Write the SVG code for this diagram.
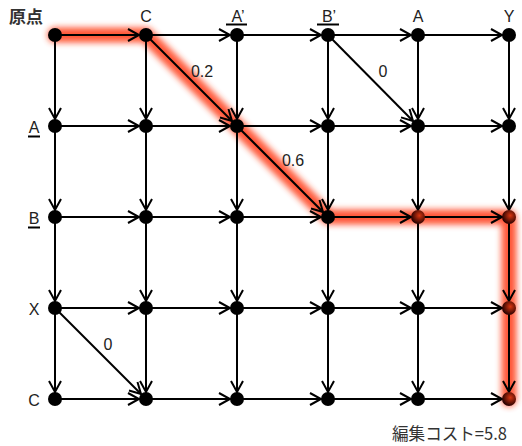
<svg xmlns="http://www.w3.org/2000/svg" width="522" height="446" viewBox="0 0 522 446">
<defs>
<marker id="arr" markerUnits="userSpaceOnUse" markerWidth="14" markerHeight="14" refX="11" refY="6" orient="auto" overflow="visible">
<path d="M0,0 L11,6 L0,12" fill="none" stroke="#000" stroke-width="2"/>
</marker>
<filter id="blur" x="-20%" y="-20%" width="140%" height="140%"><feGaussianBlur stdDeviation="3"/></filter>
<radialGradient id="rn" cx="0.6" cy="0.4" r="0.6"><stop offset="0" stop-color="#d83510"/><stop offset="1" stop-color="#250000"/></radialGradient>
</defs>
<style>
.e{stroke:#000;stroke-width:2;fill:none;marker-end:url(#arr)}
.n{fill:#000}
.r{fill:url(#rn)}
.t{font-family:"Liberation Sans","Noto Sans CJK JP",sans-serif;font-size:16px;fill:#222}
.j{font-family:"Noto Sans CJK JP","Liberation Sans",sans-serif;fill:#333}
.u{stroke:#000;stroke-width:2}
</style>
<path id="glow" d="M55,35 H146 L328,217 H509 V399" fill="none" stroke="#ff3a18" stroke-width="15" stroke-linejoin="round" stroke-linecap="round" opacity="0.85" filter="url(#blur)"/>
<g id="connectors">
<path class="e" d="M55,35 H139"/><path class="e" d="M146,35 H230"/><path class="e" d="M237,35 H321"/><path class="e" d="M328,35 H411"/><path class="e" d="M418,35 H502"/>
<path class="e" d="M55,126 H139"/><path class="e" d="M146,126 H230"/><path class="e" d="M237,126 H321"/><path class="e" d="M328,126 H411"/><path class="e" d="M418,126 H502"/>
<path class="e" d="M55,217 H139"/><path class="e" d="M146,217 H230"/><path class="e" d="M237,217 H321"/><path class="e" d="M328,217 H411"/><path class="e" d="M418,217 H502"/>
<path class="e" d="M55,308 H139"/><path class="e" d="M146,308 H230"/><path class="e" d="M237,308 H321"/><path class="e" d="M328,308 H411"/><path class="e" d="M418,308 H502"/>
<path class="e" d="M55,399 H139"/><path class="e" d="M146,399 H230"/><path class="e" d="M237,399 H321"/><path class="e" d="M328,399 H411"/><path class="e" d="M418,399 H502"/>
<path class="e" d="M55,35 V119"/><path class="e" d="M55,126 V210"/><path class="e" d="M55,217 V301"/><path class="e" d="M55,308 V392"/>
<path class="e" d="M146,35 V119"/><path class="e" d="M146,126 V210"/><path class="e" d="M146,217 V301"/><path class="e" d="M146,308 V392"/>
<path class="e" d="M237,35 V119"/><path class="e" d="M237,126 V210"/><path class="e" d="M237,217 V301"/><path class="e" d="M237,308 V392"/>
<path class="e" d="M328,35 V119"/><path class="e" d="M328,126 V210"/><path class="e" d="M328,217 V301"/><path class="e" d="M328,308 V392"/>
<path class="e" d="M418,35 V119"/><path class="e" d="M418,126 V210"/><path class="e" d="M418,217 V301"/><path class="e" d="M418,308 V392"/>
<path class="e" d="M509,35 V119"/><path class="e" d="M509,126 V210"/><path class="e" d="M509,217 V301"/><path class="e" d="M509,308 V392"/>
<path class="e" d="M146,35 L232,121"/>
<path class="e" d="M237,126 L323,212"/>
<path class="e" d="M328,35 L413,121"/>
<path class="e" d="M55,308 L141,394"/>
<text class="t" x="202" y="77" text-anchor="middle" font-size="15">0.2</text>
<text class="t" x="293" y="166" text-anchor="middle" font-size="15">0.6</text>
<text class="t" x="383" y="77" text-anchor="middle" font-size="15">0</text>
<text class="t" x="108" y="350" text-anchor="middle" font-size="15">0</text>
</g>
<g id="nodes">
<g id="n00"><circle class="n" cx="55" cy="35" r="7"/></g><g id="n01"><circle class="n" cx="146" cy="35" r="7"/></g><g id="n02"><circle class="n" cx="237" cy="35" r="7"/></g><g id="n03"><circle class="n" cx="328" cy="35" r="7"/></g><g id="n04"><circle class="n" cx="418" cy="35" r="7"/></g><g id="n05"><circle class="n" cx="509" cy="35" r="7"/></g>
<g id="n10"><circle class="n" cx="55" cy="126" r="7"/></g><g id="n11"><circle class="n" cx="146" cy="126" r="7"/></g><g id="n12"><circle class="n" cx="237" cy="126" r="7"/></g><g id="n13"><circle class="n" cx="328" cy="126" r="7"/></g><g id="n14"><circle class="n" cx="418" cy="126" r="7"/></g><g id="n15"><circle class="n" cx="509" cy="126" r="7"/></g>
<g id="n20"><circle class="n" cx="55" cy="217" r="7"/></g><g id="n21"><circle class="n" cx="146" cy="217" r="7"/></g><g id="n22"><circle class="n" cx="237" cy="217" r="7"/></g><g id="n23"><circle class="n" cx="328" cy="217" r="7"/></g><g id="n24"><circle class="r" cx="418" cy="217" r="7"/></g><g id="n25"><circle class="r" cx="509" cy="217" r="7"/></g>
<g id="n30"><circle class="n" cx="55" cy="308" r="7"/></g><g id="n31"><circle class="n" cx="146" cy="308" r="7"/></g><g id="n32"><circle class="n" cx="237" cy="308" r="7"/></g><g id="n33"><circle class="n" cx="328" cy="308" r="7"/></g><g id="n34"><circle class="n" cx="418" cy="308" r="7"/></g><g id="n35"><circle class="r" cx="509" cy="308" r="7"/></g>
<g id="n40"><circle class="n" cx="55" cy="399" r="7"/></g><g id="n41"><circle class="n" cx="146" cy="399" r="7"/></g><g id="n42"><circle class="n" cx="237" cy="399" r="7"/></g><g id="n43"><circle class="n" cx="328" cy="399" r="7"/></g><g id="n44"><circle class="n" cx="418" cy="399" r="7"/></g><g id="n45"><circle class="r" cx="509" cy="399" r="7"/></g>
</g>
<g id="labels">
<text class="j" x="9" y="23" font-size="17" font-weight="bold">原点</text>
<text class="t" x="146" y="22" text-anchor="middle">C</text>
<text class="t" x="238" y="22" text-anchor="middle">A’</text>
<line class="u" x1="226" y1="24.5" x2="247" y2="24.5"/>
<text class="t" x="329" y="22" text-anchor="middle">B’</text>
<line class="u" x1="317" y1="24.5" x2="339" y2="24.5"/>
<text class="t" x="418" y="22" text-anchor="middle">A</text>
<text class="t" x="509" y="22" text-anchor="middle">Y</text>
<text class="t" x="34" y="133" text-anchor="middle">A</text>
<line class="u" x1="28" y1="136.5" x2="40" y2="136.5"/>
<text class="t" x="34" y="224" text-anchor="middle">B</text>
<line class="u" x1="28" y1="227.5" x2="40" y2="227.5"/>
<text class="t" x="34" y="315" text-anchor="middle">X</text>
<text class="t" x="34" y="406" text-anchor="middle">C</text>
<text class="j" x="507" y="440" font-size="17" text-anchor="end" textLength="115" lengthAdjust="spacingAndGlyphs">編集コスト=5.8</text>
</g>
</svg>
